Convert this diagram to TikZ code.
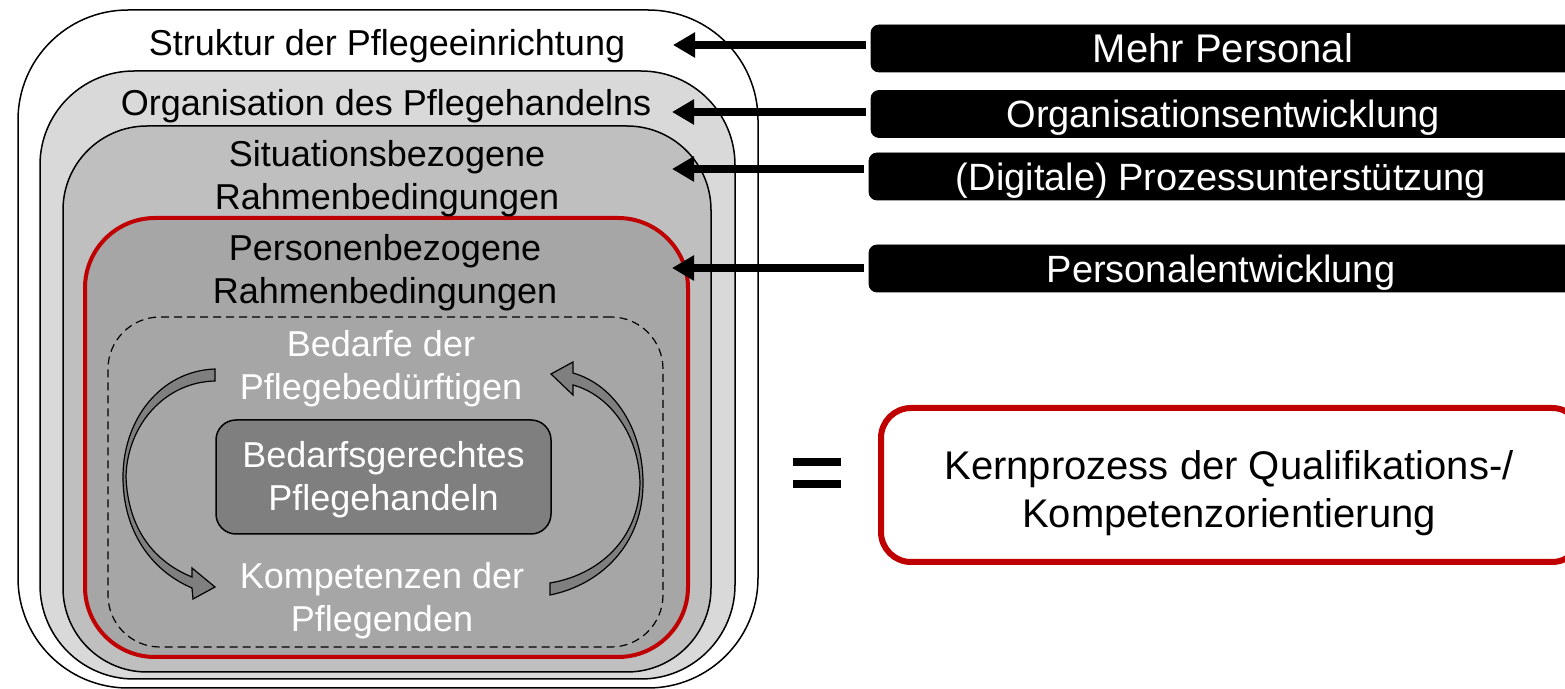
\documentclass[tikz,border=0pt]{standalone}
\usepackage{fontspec}
\setmainfont{Liberation Sans}
\usetikzlibrary{arrows.meta}
\definecolor{layerA}{HTML}{D9D9D9}
\definecolor{layerB}{HTML}{BFBFBF}
\definecolor{layerC}{HTML}{A6A6A6}
\definecolor{coreFill}{HTML}{7F7F7F}
\definecolor{accentRed}{HTML}{C00000}
\tikzset{
  layer/.style={draw=black, line width=0.75pt, inner sep=0pt, outer sep=0pt},
  lbl/.style={align=center, inner sep=0pt, font=\fontsize{18}{21.6}\selectfont},
  wlbl/.style={lbl, text=white},
  measure/.style={draw=black, fill=black, rounded corners=4pt, minimum width=352pt,
    minimum height=23.5pt, inner sep=0pt, outer sep=0pt, anchor=west, text=white,
    text height=13.9pt, text depth=0pt, font=\fontsize{19}{22.8}\selectfont},
  pusharrow/.style={line width=4pt, shorten <=2.5pt, -{Triangle[length=11pt,width=12pt]}},
  bentarrow/.style={draw=black, fill=coreFill, line width=0.6pt, line join=miter}
}
\begin{document}
\begin{tikzpicture}[x=0.5pt,y=-0.5pt]
\useasboundingbox (0,0) rectangle (1565,689);
\clip (0,0) rectangle (1565,689);

% nested frames of the care setting
\node[layer, fill=white, rounded corners=55pt, minimum width=370pt, minimum height=339pt] (struktur) at (388,349) {};
\node[layer, fill=layerA, rounded corners=47pt, minimum width=347.5pt, minimum height=304pt] (organisation) at (387.5,375) {};
\node[layer, fill=layerB, rounded corners=42pt, minimum width=324pt, minimum height=273pt] (situation) at (387,399) {};
\node[layer, draw=accentRed, line width=2pt, fill=layerC, rounded corners=35pt, minimum width=301.5pt, minimum height=219.5pt] (person) at (386.5,437.5) {};
\node[layer, line width=0.6pt, dash pattern=on 4pt off 2.5pt, rounded corners=26pt, minimum width=277.5pt, minimum height=165pt] (zyklus) at (385.5,482) {};
\node[layer, fill=coreFill, rounded corners=10pt, minimum width=167.5pt, minimum height=57pt] (kern) at (383.5,477) {};

% frame captions
\node[lbl] (tStruktur) at (387,46) {Struktur der Pflegeeinrichtung};
\node[lbl] (tOrganisation) at (386,106) {Organisation des Pflegehandelns};
\node[lbl] (tSituation) at (387,179) {Situationsbezogene\\Rahmenbedingungen};
\node[lbl] (tPerson) at (385,273) {Personenbezogene\\Rahmenbedingungen};
\node[wlbl] (tBedarfe) at (381,369) {Bedarfe der\\Pflegebedürftigen};
\node[wlbl] (tKern) at (383.5,480) {Bedarfsgerechtes\\Pflegehandeln};
\node[wlbl] (tKompetenz) at (382,601) {Kompetenzen der\\Pflegenden};

% twisted circular arrows around the core
\path[bentarrow] (215,369) .. controls (160,371) and (123,420) .. (123,477)
  .. controls (123,530) and (150,570) .. (192,588)
  -- (193,599) -- (215,587) -- (192,568) -- (192,577)
  .. controls (155,562) and (128,530) .. (126,477)
  .. controls (127,425) and (165,382) .. (215,381) -- cycle;
\path[bentarrow] (573,373) .. controls (615,385) and (643,430) .. (643,483)
  .. controls (643,545) and (600,585) .. (550,595)
  -- (550,583)
  .. controls (598,575) and (639,540) .. (640,483)
  .. controls (639,435) and (610,395) .. (573,385)
  -- (573,395) -- (551,374) -- (573,362) -- cycle;

% measures acting on the frames
\node[measure, font=\fontsize{20}{24}\selectfont] (mPersonal) at (871,48.5) {Mehr Personal};
\node[measure] (mOrg) at (871,114) {Organisationsentwicklung};
\node[measure] (mProzess) at (869,176.5) {(Digitale) Prozessunterstützung};
\node[measure] (mPE) at (869,268.5) {Personalentwicklung};

\coordinate (pStruktur) at (673,45);
\coordinate (pOrg) at (672,112);
\coordinate (pSituation) at (672,169);
\coordinate (pPerson) at (672,268);

\draw[pusharrow] (mPersonal.west |- pStruktur) -- (pStruktur);
\draw[pusharrow] (mOrg.west |- pOrg) -- (pOrg);
\draw[pusharrow] (mProzess.west |- pSituation) -- (pSituation);
\draw[pusharrow] (mPE.west |- pPerson) -- (pPerson);

% equals shape linking the cycle to the core process
\fill (793,458) rectangle (841,466);
\fill (793,480) rectangle (841,488);

\node[draw=accentRed, line width=3pt, rounded corners=15pt, minimum width=350.5pt, minimum height=77pt,
  inner sep=0pt, outer sep=0pt] (kernprozess) at (1231.5,485) {};
\node[align=center, inner sep=0pt, font=\fontsize{20}{24}\selectfont] (tKernprozess) at (1229,493)
  {Kernprozess der Qualifikations-/\\Kompetenzorientierung};
\end{tikzpicture}
\end{document}
